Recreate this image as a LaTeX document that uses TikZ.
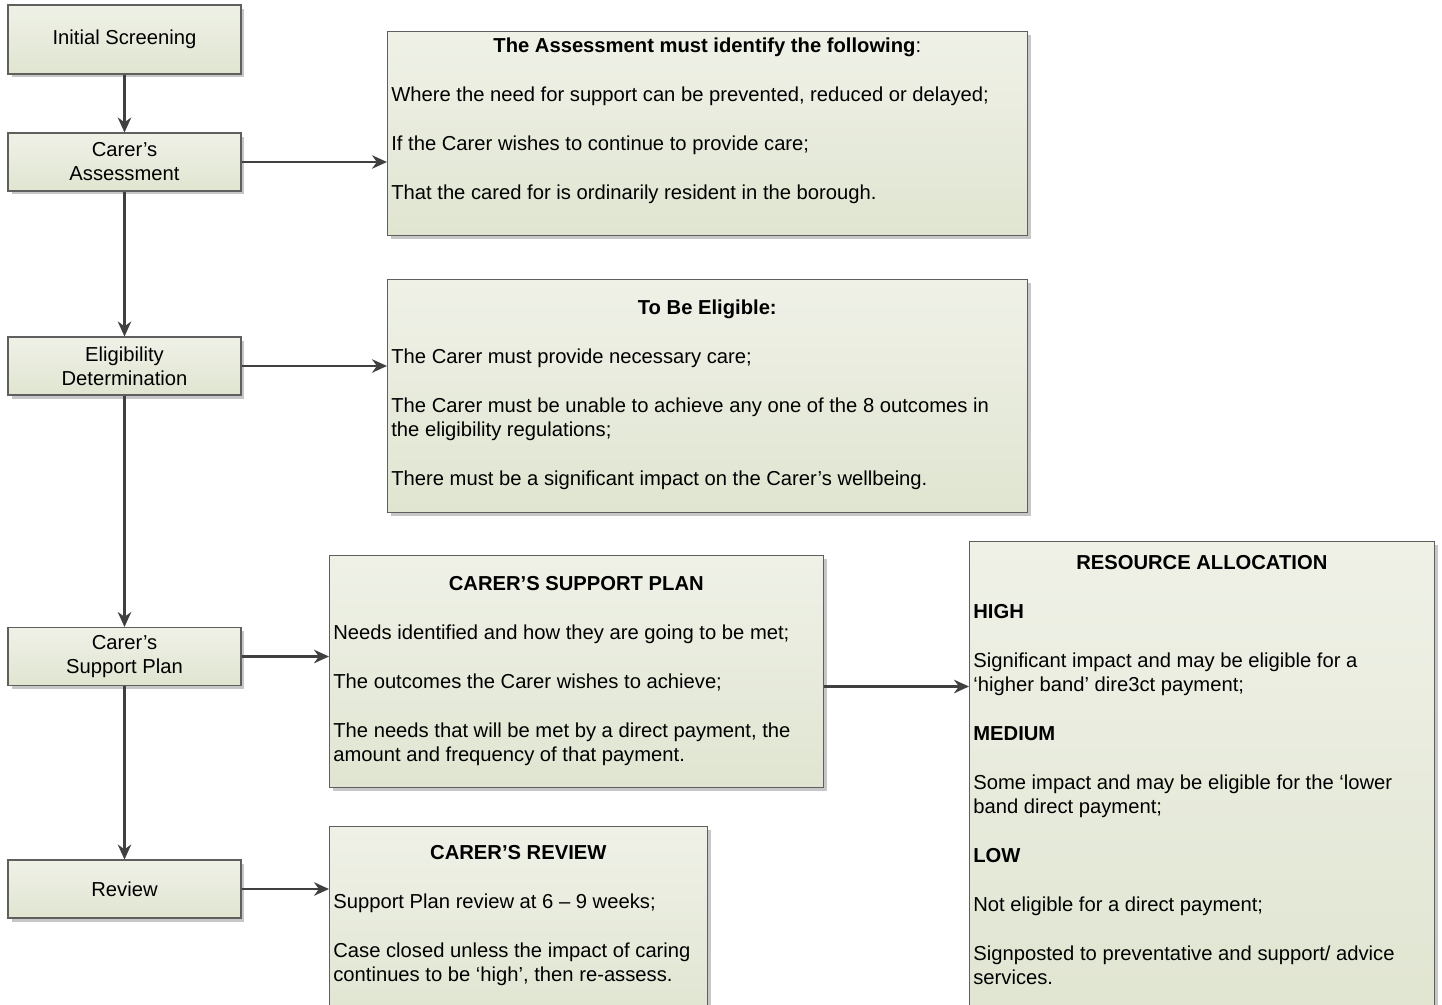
\documentclass[tikz,border=0pt]{standalone}
\usepackage{fontspec}
\setmainfont{Liberation Sans}
\usetikzlibrary{shadows,arrows.meta}

\definecolor{boxtop}{RGB}{239,241,231}
\definecolor{boxbot}{RGB}{224,229,209}
\definecolor{boxline}{RGB}{95,95,95}
\definecolor{arrowgray}{RGB}{64,64,64}

\newcommand{\boxhead}[2]{\rule{0pt}{10pt}\makebox[#1][c]{#2}}

\tikzset{
  boxshade/.style={draw=boxline, line width=0.6pt, top color=boxtop, bottom color=boxbot,
    drop shadow={shadow xshift=0.07cm, shadow yshift=-0.07cm, fill=black!22, opacity=1}},
  stage/.style={boxshade, minimum width=4.66cm, minimum height=1.16cm, align=center, inner sep=0pt},
  infobox/.style={boxshade, anchor=north west, inner sep=0pt},
  infotext/.style={anchor=north west, yshift=10pt, align=left, inner sep=0pt},
  flow/.style={draw=arrowgray, line width=1.3pt, -{Stealth[length=0.3cm,width=0.27cm]}}
}

\begin{document}
\begin{tikzpicture}[x=0.02cm, y=-0.02cm, font=\fontsize{11.5pt}{13.66pt}\selectfont]

      \useasboundingbox (0,0) rectangle (1442,1004);
      \clip (0,0) rectangle (1442,1004);

      % left column
      \node[stage, minimum height=1.38cm] (screen) at (124.5,39.5) {Initial Screening};
      \node[stage] (assess) at (124.5,162) {Carer’s\\Assessment};
      \node[stage] (elig) at (124.5,366) {Eligibility\\Determination};
      \node[stage] (plan) at (124.5,656.5) {Carer’s\\Support Plan};
      \node[stage] (review) at (124.5,889) {Review};

      % boxes on the right
      \node[infobox, minimum width=12.8cm, minimum height=4.08cm] (assessinfo) at (387,31) {};
      \node[infobox, minimum width=12.8cm, minimum height=4.66cm] (eliginfo) at (387,279) {};
      \node[infobox, minimum width=9.88cm, minimum height=4.64cm] (planinfo) at (329,555) {};
      \node[infobox, minimum width=7.56cm, minimum height=3.9cm] (reviewinfo) at (329,826) {};
      \node[infobox, minimum width=9.3cm, minimum height=9.6cm] (resinfo) at (969,541) {};

      \node[infotext] (assesstext) at ([shift={(4,21.5)}]assessinfo.north west) {%
        \boxhead{12.64cm}{\textbf{The Assessment must identify the following}:}\\[0.5cm]
        Where the need for support can be prevented, reduced or delayed;\\[0.5cm]
        If the Carer wishes to continue to provide care;\\[0.5cm]
        That the cared for is ordinarily resident in the borough.};

      \node[infotext] (eligtext) at ([shift={(4,35)}]eliginfo.north west) {%
        \boxhead{12.64cm}{\textbf{To Be Eligible:}}\\[0.5cm]
        The Carer must provide necessary care;\\[0.5cm]
        The Carer must be unable to achieve any one of the 8 outcomes in\\
        the eligibility regulations;\\[0.5cm]
        There must be a significant impact on the Carer’s wellbeing.};

      \node[infotext] (plantext) at ([shift={(4,35)}]planinfo.north west) {%
        \boxhead{9.72cm}{\textbf{CARER’S SUPPORT PLAN}}\\[0.5cm]
        Needs identified and how they are going to be met;\\[0.5cm]
        The outcomes the Carer wishes to achieve;\\[0.5cm]
        The needs that will be met by a direct payment, the\\
        amount and frequency of that payment.};

      \node[infotext] (reviewtext) at ([shift={(4,33)}]reviewinfo.north west) {%
        \boxhead{7.4cm}{\textbf{CARER’S REVIEW}}\\[0.5cm]
        Support Plan review at 6 -- 9 weeks;\\[0.5cm]
        Case closed unless the impact of caring\\
        continues to be ‘high’, then re-assess.};

      \node[infotext] (restext) at ([shift={(4,28)}]resinfo.north west) {%
        \boxhead{9.14cm}{\textbf{RESOURCE ALLOCATION}}\\[0.5cm]
        \textbf{HIGH}\\[0.5cm]
        Significant impact and may be eligible for a\\
        ‘higher band’ dire3ct payment;\\[0.5cm]
        \textbf{MEDIUM}\\[0.5cm]
        Some impact and may be eligible for the ‘lower\\
        band direct payment;\\[0.5cm]
        \textbf{LOW}\\[0.5cm]
        Not eligible for a direct payment;\\[0.5cm]
        Signposted to preventative and support/ advice\\
        services.};

      % connectors
      \draw[flow] (screen) -- (assess);
      \draw[flow] (assess) -- (elig);
      \draw[flow] (elig) -- (plan);
      \draw[flow] (plan) -- (review);

      \draw[flow] (assess.east) -- (assess.east -| assessinfo.west);
      \draw[flow] (elig.east) -- (elig.east -| eliginfo.west);
      \draw[flow] (plan.east) -- (plan.east -| planinfo.west);
      \draw[flow] (review.east) -- (review.east -| reviewinfo.west);
      \draw[flow] ([yshift=-0.3cm]planinfo.east) -- ([yshift=-0.3cm]planinfo.east -| resinfo.west);

    \end{tikzpicture}
\end{document}
